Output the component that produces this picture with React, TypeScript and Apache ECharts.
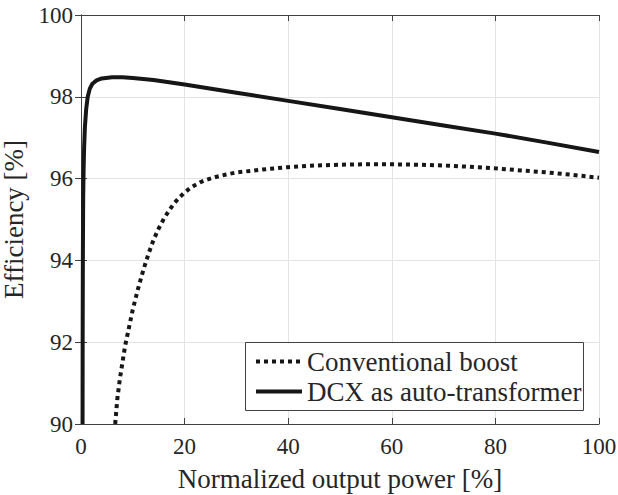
import React, { useEffect, useRef } from "react";
import * as echarts from "echarts";

const xTicks = [0, 20, 40, 60, 80, 100];
const yTicks = [90, 92, 94, 96, 98, 100];

const seriesNames = ["Conventional boost", "DCX as auto-transformer"];

const boostX = [6.6, 7, 7.5, 8, 8.5, 9, 10, 11, 12, 13, 14, 15, 16, 17, 18, 19, 20, 21, 22, 23, 24, 26, 28, 30, 35, 40, 45, 50, 55, 60, 65, 70, 75, 80, 85, 90, 95, 100];
const boostY = [90, 90.6, 91.1, 91.5, 91.9, 92.2, 92.8, 93.3, 93.75, 94.15, 94.5, 94.78, 95.02, 95.22, 95.4, 95.54, 95.66, 95.76, 95.84, 95.91, 95.96, 96.04, 96.1, 96.15, 96.22, 96.28, 96.32, 96.34, 96.35, 96.35, 96.34, 96.32, 96.29, 96.25, 96.2, 96.15, 96.09, 96.02];

const dcxX = [0.3, 0.32, 0.36, 0.42, 0.5, 0.6, 0.75, 1.0, 1.3, 1.7, 2.2, 3, 4, 6, 8, 10, 14, 20, 30, 40, 50, 60, 70, 80, 90, 100];
const dcxY = [90, 92, 94, 95.5, 96.2, 96.75, 97.25, 97.7, 98.0, 98.2, 98.32, 98.4, 98.45, 98.48, 98.48, 98.46, 98.41, 98.3, 98.1, 97.9, 97.7, 97.5, 97.3, 97.1, 96.88, 96.65];

const FONT = "Liberation Serif";
const TEXT = "#262626";
const AXIS = "#404040";
const GRID = "#e3e3e3";
const LINE = "#161616";

const css = `svg text { font-family: "Liberation Serif", "Times New Roman", serif !important; }`;

export default function App() {
  const ref = useRef<HTMLDivElement>(null);
  useEffect(() => {
    if (!ref.current) return;
    document.body.style.margin = "0";
    const chart = echarts.init(ref.current, undefined, { renderer: "svg" });
    const tick = { show: true, inside: true, length: 6, lineStyle: { color: AXIS, width: 1 } };
    const line = { show: true, lineStyle: { color: AXIS, width: 1 } };
    chart.setOption({
      animation: false,
      grid: { left: 81, top: 15, right: 19, bottom: 71, outerBoundsMode: "none" },
      xAxis: [
        {
          type: "value",
          min: xTicks[0],
          max: xTicks[xTicks.length - 1],
          interval: 20,
          position: "bottom",
          axisLine: line,
          axisTick: tick,
          splitLine: { show: true, lineStyle: { color: GRID, width: 1 } },
          axisLabel: { fontFamily: FONT, fontSize: 23, color: TEXT, margin: 11 },
          name: "Normalized output power [%]",
          nameLocation: "middle",
          nameGap: 41,
          nameTextStyle: { fontFamily: FONT, fontSize: 27, color: TEXT },
        },
        {
          type: "value",
          min: xTicks[0],
          max: xTicks[xTicks.length - 1],
          interval: 20,
          position: "top",
          axisLine: line,
          axisTick: tick,
          splitLine: { show: false },
          axisLabel: { show: false },
        },
      ],
      yAxis: [
        {
          type: "value",
          min: yTicks[0],
          max: yTicks[yTicks.length - 1],
          interval: 2,
          position: "left",
          axisLine: line,
          axisTick: tick,
          splitLine: { show: true, lineStyle: { color: GRID, width: 1 } },
          axisLabel: { fontFamily: FONT, fontSize: 23, color: TEXT, margin: 8 },
          name: "Efficiency [%]",
          nameLocation: "middle",
          nameGap: 47,
          nameTextStyle: { fontFamily: FONT, fontSize: 27, color: TEXT },
        },
        {
          type: "value",
          min: yTicks[0],
          max: yTicks[yTicks.length - 1],
          interval: 2,
          position: "right",
          axisLine: line,
          axisTick: tick,
          splitLine: { show: false },
          axisLabel: { show: false },
        },
      ],
      graphic: [
        {
          type: "rect",
          z: 3,
          shape: { x: 245.5, y: 342.5, width: 338, height: 68 },
          style: { fill: "#ffffff", stroke: AXIS, lineWidth: 1 },
          silent: true,
        },
      ],
      legend: {
        orient: "vertical",
        left: 245,
        top: 342,
        z: 5,
        itemWidth: 46,
        itemHeight: 12,
        itemGap: 3,
        padding: [6, 5, 4, 9],
        lineStyle: { width: 4 },
        itemStyle: { opacity: 0 },
        textStyle: { fontSize: 27, fontFamily: FONT, color: TEXT },
        data: seriesNames,
      },
      series: [
        {
          name: seriesNames[0],
          type: "line",
          showSymbol: false,
          lineStyle: { color: LINE, width: 4, type: [4, 4] },
          itemStyle: { color: LINE },
          data: boostX.map((x, i) => [x, boostY[i]]),
        },
        {
          name: seriesNames[1],
          type: "line",
          showSymbol: false,
          lineStyle: { color: LINE, width: 4 },
          itemStyle: { color: LINE },
          data: dcxX.map((x, i) => [x, dcxY[i]]),
        },
      ],
    });
    return () => chart.dispose();
  }, []);
  return (
    <>
      <style>{css}</style>
      <div ref={ref} style={{ width: 618, height: 495 }} />
    </>
  );
}
